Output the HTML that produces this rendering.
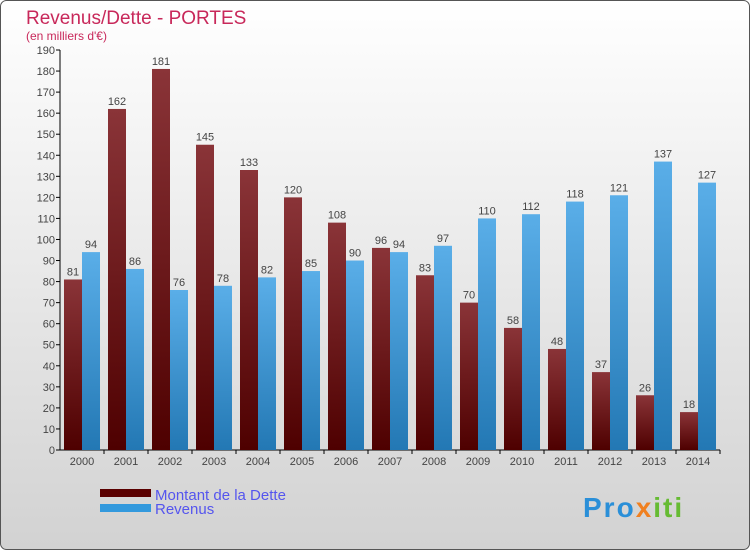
<!DOCTYPE html>
<html><head><meta charset="utf-8"><style>
html,body{margin:0;padding:0}
body{width:750px;height:550px;overflow:hidden;font-family:"Liberation Sans",sans-serif}
</style></head><body>
<svg width="750" height="550" xmlns="http://www.w3.org/2000/svg">
<defs>
<linearGradient id="bg" x1="0" y1="0" x2="0" y2="1"><stop offset="0" stop-color="#ffffff"/><stop offset="1" stop-color="#d2d2d2"/></linearGradient>
<linearGradient id="gd" x1="0" y1="0" x2="0" y2="1"><stop offset="0" stop-color="#8a3438"/><stop offset="1" stop-color="#4e0000"/></linearGradient>
<linearGradient id="gr" x1="0" y1="0" x2="0" y2="1"><stop offset="0" stop-color="#5aaee8"/><stop offset="1" stop-color="#2378b4"/></linearGradient>
</defs>
<rect x="0.5" y="0.5" width="749" height="549" rx="6" fill="url(#bg)" stroke="#555"/>
<text x="26" y="24" font-size="19" fill="#c8285a">Revenus/Dette - PORTES</text>
<text x="26" y="40" font-size="12" fill="#c8285a">(en milliers d'€)</text>
<g id="axes"></g>
<g id="bars"></g>
<g>
<rect x="100" y="489" width="51" height="8" fill="#5a0000"/>
<text x="155" y="500" font-size="15" fill="#5555ee">Montant de la Dette</text>
<rect x="100" y="504" width="51" height="8" fill="#3399dd"/>
<text x="155" y="514" font-size="15" fill="#5555ee">Revenus</text>
</g>
<text x="583" y="517" font-size="28" font-weight="bold" letter-spacing="2" fill="#2a8fd8">Pro<tspan fill="#f08020">x</tspan><tspan fill="#66bb33">iti</tspan></text>
</svg>
<script>
const years=["2000","2001","2002","2003","2004","2005","2006","2007","2008","2009","2010","2011","2012","2013","2014"];
const dette=[81,162,181,145,133,120,108,96,83,70,58,48,37,26,18];
const revenus=[94,86,76,78,82,85,90,94,97,110,112,118,121,137,127];
const yTicks=[0,10,20,30,40,50,60,70,80,90,100,110,120,130,140,150,160,170,180,190];
const NS="http://www.w3.org/2000/svg";
const x0=60,step=44,yZero=450,yTop=50,yMax=190;
const yS=v=>yZero-(yZero-yTop)*v/yMax;
const xC=i=>x0+step*i+22;
function mk(t,a,p){const e=document.createElementNS(NS,t);for(const k in a)e.setAttribute(k,a[k]);p.appendChild(e);return e;}
const ax=document.getElementById('axes'),bg=document.getElementById('bars');
let l=mk('line',{x1:x0,y1:yTop,x2:x0,y2:yZero,stroke:'#000'},ax);


l=mk('line',{x1:x0,y1:yZero,x2:x0+step*years.length,y2:yZero,stroke:'#000'},ax);


yTicks.forEach(v=>{
 const y=yS(v);
 mk('line',{x1:x0-4,y1:y,x2:x0,y2:y,stroke:'#000'},ax);
 const t=mk('text',{x:x0-5,y:y+4,'font-size':11,fill:'#444','text-anchor':'end'},ax);t.textContent=v;
 
 
});
years.forEach((yr,i)=>{
 const c=xC(i);
 mk('line',{x1:x0+step*(i+1),y1:yZero,x2:x0+step*(i+1),y2:yZero+4,stroke:'#000'},ax);
 const t=mk('text',{x:c,y:465,'font-size':11,fill:'#444','text-anchor':'middle'},ax);t.textContent=yr;
 
 
 const b1=mk('rect',{x:c-18,y:yS(dette[i]),width:18,height:yZero-yS(dette[i]),fill:'url(#gd)'},bg);
 
 
 const b2=mk('rect',{x:c,y:yS(revenus[i]),width:18,height:yZero-yS(revenus[i]),fill:'url(#gr)'},bg);
 
 
 const l1=mk('text',{x:c-9,y:yS(dette[i])-4,'font-size':11,fill:'#444','text-anchor':'middle'},bg);l1.textContent=dette[i];
 
 
 const l2=mk('text',{x:c+9,y:yS(revenus[i])-4,'font-size':11,fill:'#444','text-anchor':'middle'},bg);l2.textContent=revenus[i];
 
 
});
</script>
</body></html>
